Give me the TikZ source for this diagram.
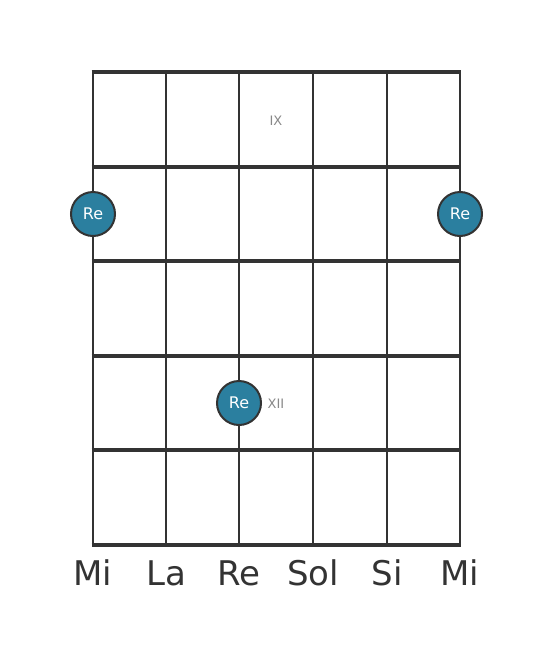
\documentclass[tikz,border=0pt]{standalone}
\usepackage{fontspec}
\setmainfont{DejaVu Sans}
\definecolor{linec}{HTML}{333333}
\definecolor{dotc}{HTML}{2B7F9F}
\definecolor{lblc}{HTML}{888888}
\tikzset{
  fretline/.style={line width=4.5pt, draw=linec, line cap=butt, shorten <=-1.4pt, shorten >=-1.4pt},
  stringline/.style={line width=2.8pt, draw=linec},
  notedot/.style={circle, fill=dotc, draw=linec, line width=2pt, minimum size=44pt, inner sep=0pt, text=white, font=\fontsize{16}{18}\selectfont},
  fretlbl/.style={text=lblc, font=\fontsize{13}{15}\selectfont},
  strlbl/.style={text=linec, font=\fontsize{34}{38}\selectfont},
}
\begin{document}
\begin{tikzpicture}[x=1pt,y=-1pt]
\useasboundingbox (0,0) rectangle (553,656);
\foreach \i/\x in {1/93,2/166,3/239,4/313,5/387,6/460}{
  \coordinate (st\i) at (\x,72);
  \coordinate (sb\i) at (\x,545);
}
\foreach \i in {1,...,6}{ \draw[stringline] (st\i) -- (sb\i); }
\foreach \j/\y in {1/72,2/167,3/261,4/356,5/450,6/545}{
  \coordinate (fl\j) at (93,\y);
  \coordinate (fr\j) at (460,\y);
}
\foreach \j in {1,...,6}{ \draw[fretline] (fl\j) -- (fr\j); }
\node[fretlbl] (ix) at (276,121) {IX};
\node[fretlbl] (xii) at (276,404) {XII};
\node[notedot] (d1) at (93,214) {Re};
\node[notedot] (d2) at (460,214) {Re};
\node[notedot] (d3) at (239,403) {Re};
\node[strlbl] (l1) at (93,573) {Mi};
\node[strlbl] (l2) at (166,573) {La};
\node[strlbl] (l3) at (239,573) {Re};
\node[strlbl] (l4) at (313,573) {Sol};
\node[strlbl] (l5) at (387,573) {Si};
\node[strlbl] (l6) at (460,573) {Mi};
\end{tikzpicture}
\end{document}
